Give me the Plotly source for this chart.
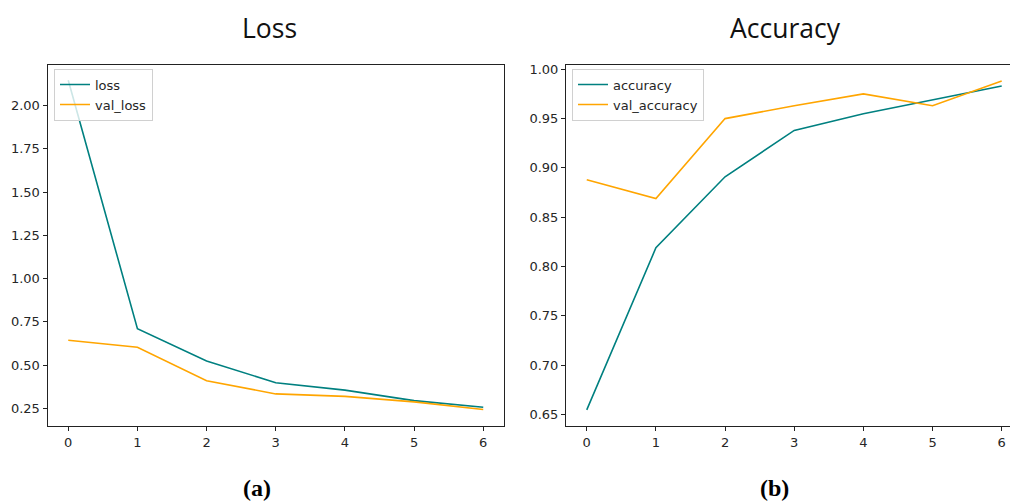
import plotly.graph_objects as go

epochs = [0, 1, 2, 3, 4, 5, 6]
loss = [2.147, 0.710, 0.523, 0.398, 0.355, 0.294, 0.256]
val_loss = [0.643, 0.603, 0.409, 0.333, 0.319, 0.287, 0.243]
accuracy = [0.6547, 0.819, 0.891, 0.938, 0.955, 0.969, 0.983]
val_accuracy = [0.888, 0.869, 0.950, 0.963, 0.975, 0.963, 0.988]
loss_ticks = [0.25, 0.50, 0.75, 1.00, 1.25, 1.50, 1.75, 2.00]
acc_ticks = [0.65, 0.70, 0.75, 0.80, 0.85, 0.90, 0.95, 1.00]

W, H = 1010, 502
TEAL = "#008080"
ORANGE = "#FFA500"

fig = go.Figure()
fig.add_trace(go.Scatter(x=epochs, y=loss, mode="lines", name="loss",
                         line=dict(color=TEAL, width=1.6), xaxis="x", yaxis="y", legend="legend"))
fig.add_trace(go.Scatter(x=epochs, y=val_loss, mode="lines", name="val_loss",
                         line=dict(color=ORANGE, width=1.6), xaxis="x", yaxis="y", legend="legend"))
fig.add_trace(go.Scatter(x=epochs, y=accuracy, mode="lines", name="accuracy",
                         line=dict(color=TEAL, width=1.6), xaxis="x2", yaxis="y2", legend="legend2"))
fig.add_trace(go.Scatter(x=epochs, y=val_accuracy, mode="lines", name="val_accuracy",
                         line=dict(color=ORANGE, width=1.6), xaxis="x2", yaxis="y2", legend="legend2"))

tickfont = dict(family="DejaVu Sans", size=13, color="#262626")
ydom = [1 - 425.7 / H, 1 - 62 / H]
common_ax = dict(showgrid=False, zeroline=False, showline=True, linecolor="#222", linewidth=1,
                 ticks="outside", ticklen=4, tickcolor="#222", tickfont=tickfont)

legfont = dict(family="DejaVu Sans", size=13, color="#262626")
fig.update_layout(
    width=W, height=H,
    margin=dict(l=0, r=0, t=0, b=0),
    paper_bgcolor="white", plot_bgcolor="white",
    xaxis=dict(domain=[47.5 / W, 504 / W], range=[-0.3, 6.3], tickvals=epochs,
               mirror=True, anchor="y", **common_ax),
    yaxis=dict(domain=ydom, range=[0.1466, 2.237], tickvals=loss_ticks, tickformat=".2f",
               mirror=True, anchor="x", **common_ax),
    xaxis2=dict(domain=[566 / W, 1.0], range=[-0.3, 6.12], tickvals=epochs,
                mirror=True, anchor="y2", **common_ax),
    yaxis2=dict(domain=ydom, range=[0.6382, 1.0047], tickvals=acc_ticks, tickformat=".2f",
                mirror=False, anchor="x2", **common_ax),
    legend=dict(x=54 / W, y=1 - 66 / H, xanchor="left", yanchor="top",
                bgcolor="rgba(255,255,255,0.8)", bordercolor="#d0d0d0", borderwidth=1,
                font=legfont, tracegroupgap=0, itemwidth=30),
    legend2=dict(x=572 / W, y=1 - 66 / H, xanchor="left", yanchor="top",
                 bgcolor="rgba(255,255,255,0.8)", bordercolor="#d0d0d0", borderwidth=1,
                 font=legfont, tracegroupgap=0, itemwidth=30),
    showlegend=True,
)

titlefont = dict(family="Open Sans", size=26.5, color="#111")
fig.add_annotation(text="Loss", x=269 / W, y=1 - 25 / H, xref="paper", yref="paper",
                   xanchor="center", yanchor="middle", showarrow=False, font=titlefont)
fig.add_annotation(text="Accuracy", x=785 / W, y=1 - 25 / H, xref="paper", yref="paper",
                   xanchor="center", yanchor="middle", showarrow=False, font=titlefont)

labfont = dict(family="Liberation Serif", size=24, color="#000")
fig.add_annotation(text="<b>(a)</b>", x=257 / W, y=1 - 488 / H, xref="paper", yref="paper",
                   xanchor="center", yanchor="middle", showarrow=False, font=labfont)
fig.add_annotation(text="<b>(b)</b>", x=774 / W, y=1 - 488 / H, xref="paper", yref="paper",
                   xanchor="center", yanchor="middle", showarrow=False, font=labfont)

fig.write_html("out.html", config={"displayModeBar": False},
               post_script="document.body.style.margin='0';document.body.style.overflow='hidden';")
